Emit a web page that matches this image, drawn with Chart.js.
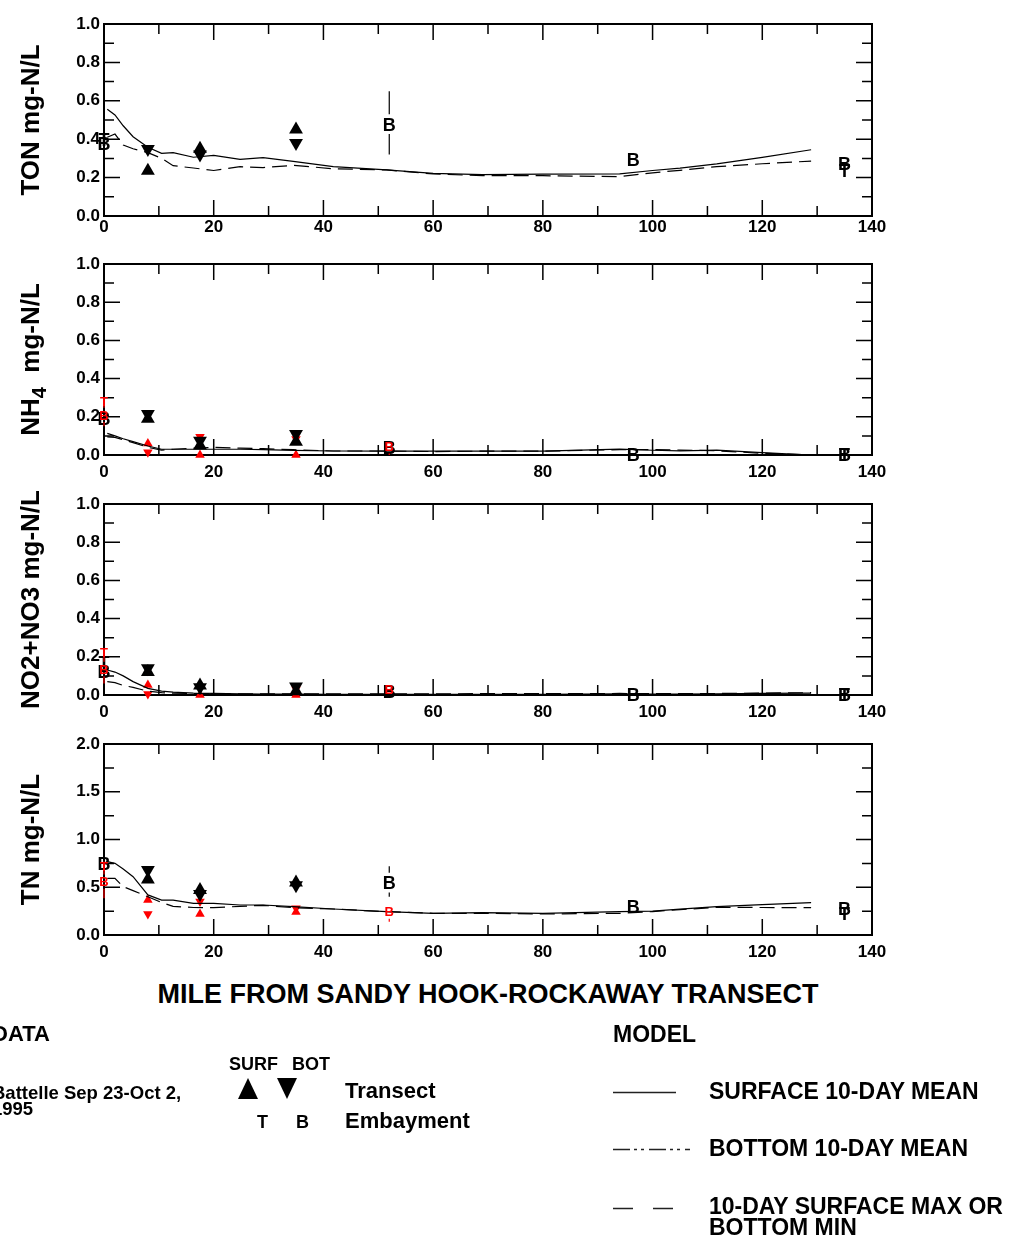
<!DOCTYPE html>
<html>
<head>
<meta charset="utf-8">
<script src="https://cdn.jsdelivr.net/npm/chart.js@4.4.1/dist/chart.umd.min.js"></script>
<style>
  body { margin: 0; background: #fff; }
  #page { position: relative; width: 1009px; height: 1236px; overflow: hidden; background: #fff; }
  canvas { position: absolute; left: 0; }
  svg { position: absolute; left: 0; top: 0; }
  .t { position: absolute; white-space: nowrap; font-family: "Liberation Sans", Arial, Helvetica, sans-serif;
       font-weight: bold; color: #000; line-height: 1; }
</style>
</head>
<body>
<div id="page">
  <canvas id="ton" width="1009" height="250" style="top:0px"></canvas>
  <canvas id="nh4" width="1009" height="250" style="top:240px"></canvas>
  <canvas id="no3" width="1009" height="250" style="top:480px"></canvas>
  <canvas id="tn" width="1009" height="250" style="top:720px"></canvas>

  <!-- x axis title shared by all four panels -->
  <div class="t" style="left:0; width:976px; text-align:center; top:981px; font-size:27px;">MILE FROM SANDY HOOK-ROCKAWAY TRANSECT</div>

  <!-- legend symbols -->
  <svg width="1009" height="1236">
    <polygon points="238,1099 258,1099 248,1078" fill="#000"/>
    <polygon points="277,1078 297,1078 287,1099" fill="#000"/>
    <line x1="613" y1="1092.5" x2="676" y2="1092.5" stroke="#222" stroke-width="1.3"/>
    <line x1="613" y1="1149.5" x2="690" y2="1149.5" stroke="#222" stroke-width="1.3" stroke-dasharray="17 4 3 4 3 5"/>
    <line x1="613" y1="1208.5" x2="673" y2="1208.5" stroke="#222" stroke-width="1.3" stroke-dasharray="20 20"/>
  </svg>

  <!-- legend texts -->
  <div class="t" style="left:-8px; top:1023px; font-size:22px;">DATA</div>
  <div class="t" style="left:-8px; top:1085px; font-size:18.5px; line-height:16px;">Battelle Sep 23-Oct 2,<br>1995</div>
  <div class="t" style="left:229px; top:1055px; font-size:18px;">SURF</div>
  <div class="t" style="left:292px; top:1055px; font-size:18px;">BOT</div>
  <div class="t" style="left:345px; top:1080px; font-size:22px;">Transect</div>
  <div class="t" style="left:257px; top:1113px; font-size:18px;">T</div>
  <div class="t" style="left:296px; top:1113px; font-size:18px;">B</div>
  <div class="t" style="left:345px; top:1110px; font-size:22px;">Embayment</div>
  <div class="t" style="left:613px; top:1023px; font-size:23px;">MODEL</div>
  <div class="t" style="left:709px; top:1080px; font-size:23px;">SURFACE 10-DAY MEAN</div>
  <div class="t" style="left:709px; top:1137px; font-size:23px;">BOTTOM 10-DAY MEAN</div>
  <div class="t" style="left:709px; top:1196px; font-size:23px; line-height:21px;">10-DAY SURFACE MAX OR<br>BOTTOM MIN</div>
</div>

<script>
// Miles along the transect where the model output is read
const modelMiles = [0.6, 2, 3.5, 5.3, 8, 10.5, 12.6, 16.3, 20, 24.8, 29, 34.5, 41.8, 51.5, 60, 69, 80, 94, 100, 105, 111.7, 120, 128.9];

// Model 10-day means, surface and bottom, for each constituent
const tonSurfMean = [0.556, 0.526, 0.47, 0.413, 0.358, 0.326, 0.330, 0.306, 0.316, 0.295, 0.304, 0.285, 0.257, 0.240, 0.222, 0.216, 0.218, 0.219, 0.237, 0.249, 0.271, 0.305, 0.345];
const tonBotMean  = [0.41, 0.427, 0.37, 0.35, 0.33, 0.30, 0.262, 0.25, 0.237, 0.257, 0.252, 0.264, 0.246, 0.240, 0.219, 0.21, 0.21, 0.205, 0.225, 0.238, 0.257, 0.272, 0.286];
const nh4SurfMean = [0.113, 0.10, 0.085, 0.07, 0.047, 0.03, 0.03, 0.03, 0.03, 0.03, 0.028, 0.024, 0.021, 0.02, 0.02, 0.02, 0.02, 0.031, 0.025, 0.022, 0.026, 0.012, 0.0];
const nh4BotMean  = [0.095, 0.092, 0.08, 0.065, 0.04, 0.026, 0.03, 0.036, 0.04, 0.036, 0.033, 0.028, 0.021, 0.021, 0.018, 0.02, 0.02, 0.028, 0.028, 0.026, 0.022, 0.009, 0.0];
const no3SurfMean = [0.131, 0.12, 0.10, 0.07, 0.035, 0.02, 0.015, 0.01, 0.008, 0.006, 0.005, 0.005, 0.004, 0.004, 0.004, 0.004, 0.004, 0.006, 0.005, 0.005, 0.006, 0.008, 0.01];
const no3BotMean  = [0.07, 0.065, 0.05, 0.04, 0.02, 0.012, 0.01, 0.008, 0.007, 0.006, 0.006, 0.006, 0.006, 0.006, 0.006, 0.007, 0.007, 0.008, 0.007, 0.007, 0.008, 0.01, 0.012];
const tnSurfMean  = [0.768, 0.75, 0.69, 0.61, 0.42, 0.366, 0.366, 0.332, 0.332, 0.314, 0.314, 0.297, 0.272, 0.244, 0.227, 0.234, 0.227, 0.244, 0.25, 0.27, 0.297, 0.318, 0.338];
const tnBotMean   = [0.593, 0.593, 0.506, 0.465, 0.40, 0.34, 0.30, 0.288, 0.286, 0.30, 0.311, 0.286, 0.272, 0.244, 0.227, 0.227, 0.22, 0.227, 0.245, 0.265, 0.29, 0.288, 0.286];

// Transect stations (triangles), black survey
const transectMiles = [8, 17.5, 35];
const tonSurfTransect = [0.236, 0.35, 0.45];
const tonBotTransect  = [0.349, 0.32, 0.38];
const nh4SurfTransect = [0.19, 0.05, 0.07];
const nh4BotTransect  = [0.215, 0.075, 0.11];
const no3SurfTransect = [0.12, 0.05, 0.02];
const no3BotTransect  = [0.14, 0.04, 0.045];
const tnSurfTransect  = [0.58, 0.47, 0.55];
const tnBotTransect   = [0.68, 0.43, 0.52];

// Transect stations, red survey
const nh4SurfTransectRed = [0.06, 0.0, 0.0];
const nh4BotTransectRed  = [0.015, 0.096, 0.084];
const no3SurfTransectRed = [0.052, 0.0, 0.0];
const no3BotTransectRed  = [0.005, 0.04, 0.03];
const tnSurfTransectRed  = [0.366, 0.22, 0.24];
const tnBotTransectRed   = [0.22, 0.35, 0.28];

// Embayment stations (letters T / B), black survey
const embayMiles = [0, 52, 96.5, 135];
const tonSurfEmbay = [0.40, null, null, 0.235];
const tonBotEmbay  = [0.378, 0.479, 0.295, 0.274];
const tonBotEmbayRange = [null, [0.32, 0.65], null, null];
const nh4SurfEmbay = [null, null, null, 0.0];
const nh4BotEmbay  = [0.19, 0.04, 0.0, 0.0];
const no3SurfEmbay = [0.17, null, null, 0.0];
const no3BotEmbay  = [0.122, 0.02, 0.0, 0.0];
const tnSurfEmbay  = [null, null, null, 0.22];
const tnBotEmbay   = [0.75, 0.548, 0.297, 0.28];
const tnBotEmbayRange = [null, [0.40, 0.72], null, null];

// Embayment stations, red survey
const embayMilesRed = [0, 52];
const nh4SurfEmbayRed = [0.28, null];
const nh4BotEmbayRed  = [0.21, 0.045];
const nh4BotEmbayRangeRed = [[0.15, 0.30], [0.0, 0.075]];
const no3SurfEmbayRed = [0.225, null];
const no3BotEmbayRed  = [0.136, 0.03];
const no3BotEmbayRangeRed = [[0.06, 0.24], [0.0, 0.05]];
const tnSurfEmbayRed  = [0.715, null];
const tnBotEmbayRed   = [0.558, 0.244];
const tnBotEmbayRangeRed = [[0.384, 0.77], [0.14, 0.30]];

const FONT = '"Liberation Sans", Arial, Helvetica, sans-serif';
Chart.defaults.font.family = FONT;
Chart.defaults.font.weight = 'bold';
Chart.defaults.font.size = 17;
Chart.defaults.color = '#000';

// Turn two lists into scatter points, skipping missing values
function pts(xs, ys, ranges) {
    const out = [];
    xs.forEach((x, i) => {
        if (ys[i] === null) return;
        const p = { x: x, y: ys[i] };
        if (ranges && ranges[i]) {
            p.lo = ranges[i][0];
            p.hi = ranges[i][1];
        }
        out.push(p);
    });
    return out;
}

// Frame with inward ticks on all four sides, like the original plot
const frameTicks = {
    id: 'frameTicks',
    beforeDatasetsDraw(chart, args, opts) {
        const { ctx, chartArea: a, scales: { x, y } } = chart;
        ctx.save();
        ctx.strokeStyle = '#000';
        ctx.lineWidth = 1.5;
        ctx.beginPath();
        const nx = Math.round((x.max - x.min) / opts.xMinor);
        for (let i = 1; i < nx; i++) {
            const px = x.getPixelForValue(x.min + i * opts.xMinor);
            const len = (i % opts.xEvery === 0) ? 16 : 10;
            ctx.moveTo(px, a.bottom); ctx.lineTo(px, a.bottom - len);
            ctx.moveTo(px, a.top); ctx.lineTo(px, a.top + len);
        }
        const ny = Math.round((y.max - y.min) / opts.yMinor);
        for (let i = 1; i < ny; i++) {
            const py = y.getPixelForValue(y.min + i * opts.yMinor);
            const len = (i % opts.yEvery === 0) ? 16 : 10;
            ctx.moveTo(a.left, py); ctx.lineTo(a.left + len, py);
            ctx.moveTo(a.right, py); ctx.lineTo(a.right - len, py);
        }
        ctx.stroke();
        ctx.lineWidth = 2;
        ctx.strokeRect(a.left, a.top, a.right - a.left, a.bottom - a.top);
        ctx.restore();
    }
};

// Letter markers (T / B) and their vertical range bars
const letterMarks = {
    id: 'letterMarks',
    afterDatasetsDraw(chart) {
        const { ctx, scales: { y } } = chart;
        ctx.save();
        chart.data.datasets.forEach((ds, i) => {
            if (!ds.letter) return;
            const meta = chart.getDatasetMeta(i);
            const size = ds.letterSize;
            ctx.font = `bold ${size}px ${FONT}`;
            ctx.fillStyle = ds.letterColor;
            ctx.strokeStyle = ds.letterColor;
            ctx.textAlign = 'center';
            ctx.textBaseline = 'alphabetic';
            ctx.lineWidth = 1.2;
            meta.data.forEach((el, j) => {
                const p = ds.data[j];
                if (p.lo !== undefined) {
                    const gap = size * 0.55;
                    const top = y.getPixelForValue(p.hi);
                    const bottom = y.getPixelForValue(p.lo);
                    ctx.beginPath();
                    if (top < el.y - gap) { ctx.moveTo(el.x, top); ctx.lineTo(el.x, el.y - gap); }
                    if (bottom > el.y + gap) { ctx.moveTo(el.x, el.y + gap); ctx.lineTo(el.x, bottom); }
                    ctx.stroke();
                }
                ctx.fillText(ds.letter, el.x, el.y + size * 0.36);
            });
        });
        ctx.restore();
    }
};

// Rotated y axis title, with optional subscript parts.
// Parts are kept in a closure (not in chart options) so Chart.js does not proxy them.
function makeSideTitle(parts, centerX) {
    return {
        id: 'sideTitle',
        afterDraw(chart) {
            const { ctx, chartArea } = chart;
            ctx.save();
            let total = 0;
            const widths = parts.map(part => {
                ctx.font = `bold ${part.size}px ${FONT}`;
                const w = ctx.measureText(part.text).width;
                total += w;
                return w;
            });
            ctx.translate(centerX, (chartArea.top + chartArea.bottom) / 2);
            ctx.rotate(-Math.PI / 2);
            ctx.fillStyle = '#000';
            ctx.textAlign = 'left';
            ctx.textBaseline = 'alphabetic';
            let pos = -total / 2;
            parts.forEach((part, k) => {
                ctx.font = `bold ${part.size}px ${FONT}`;
                ctx.fillText(part.text, pos, 9.5 + part.shift);
                pos += widths[k];
            });
            ctx.restore();
        }
    };
}

// One entry per stacked panel
const panels = [
    { id: 'ton', title: [{ text: 'TON mg-N/L', size: 26, shift: 0 }], yMax: 1, yStep: 0.2, yMinor: 0.1, xPad: 1, xAxisH: 34,
      surf: tonSurfMean, bot: tonBotMean, triUp: tonSurfTransect, triDown: tonBotTransect,
      embT: tonSurfEmbay, embB: tonBotEmbay, embRange: tonBotEmbayRange },
    { id: 'nh4', title: [{ text: 'NH', size: 26, shift: 0 }, { text: '4', size: 20, shift: 7 }, { text: '  mg-N/L', size: 26, shift: 0 }],
      yMax: 1, yStep: 0.2, yMinor: 0.1, xPad: 7, xAxisH: 35,
      surf: nh4SurfMean, bot: nh4BotMean, triUp: nh4SurfTransect, triDown: nh4BotTransect,
      embT: nh4SurfEmbay, embB: nh4BotEmbay, embRange: null,
      triUpRed: nh4SurfTransectRed, triDownRed: nh4BotTransectRed,
      embTRed: nh4SurfEmbayRed, embBRed: nh4BotEmbayRed, embRangeRed: nh4BotEmbayRangeRed },
    { id: 'no3', title: [{ text: 'NO2+NO3 mg-N/L', size: 26, shift: 0 }], yMax: 1, yStep: 0.2, yMinor: 0.1, xPad: 7, xAxisH: 35,
      surf: no3SurfMean, bot: no3BotMean, triUp: no3SurfTransect, triDown: no3BotTransect,
      embT: no3SurfEmbay, embB: no3BotEmbay, embRange: null,
      triUpRed: no3SurfTransectRed, triDownRed: no3BotTransectRed,
      embTRed: no3SurfEmbayRed, embBRed: no3BotEmbayRed, embRangeRed: no3BotEmbayRangeRed },
    { id: 'tn', title: [{ text: 'TN mg-N/L', size: 26, shift: 0 }], yMax: 2, yStep: 0.5, yMinor: 0.25, xPad: 7, xAxisH: 35,
      surf: tnSurfMean, bot: tnBotMean, triUp: tnSurfTransect, triDown: tnBotTransect,
      embT: tnSurfEmbay, embB: tnBotEmbay, embRange: tnBotEmbayRange,
      triUpRed: tnSurfTransectRed, triDownRed: tnBotTransectRed,
      embTRed: tnSurfEmbayRed, embBRed: tnBotEmbayRed, embRangeRed: tnBotEmbayRangeRed }
];

function buildDatasets(p) {
    const ds = [
        { label: 'Surface 10-day mean', data: pts(modelMiles, p.surf), showLine: true,
          borderColor: '#000', borderWidth: 1.2, pointRadius: 0 },
        { label: 'Bottom 10-day mean', data: pts(modelMiles, p.bot), showLine: true,
          borderColor: '#000', borderWidth: 1.2, borderDash: [15, 7], pointRadius: 0 }
    ];
    const tri = (label, vals, color, r, down) => ds.push({
        label: label, data: pts(transectMiles, vals), pointStyle: 'triangle', rotation: down ? 180 : 0,
        pointRadius: r, backgroundColor: color, borderColor: color, borderWidth: 0, clip: false
    });
    const letter = (label, xs, vals, ranges, ch, color, size) => ds.push({
        label: label, data: pts(xs, vals, ranges), pointRadius: 0, clip: false,
        letter: ch, letterColor: color, letterSize: size
    });

    tri('Transect surface', p.triUp, '#000', 8, false);
    tri('Transect bottom', p.triDown, '#000', 8, true);
    if (p.triUpRed) {
        tri('Transect surface (red)', p.triUpRed, '#ff0000', 5.5, false);
        tri('Transect bottom (red)', p.triDownRed, '#ff0000', 5.5, true);
    }
    letter('Embayment surface', embayMiles, p.embT, null, 'T', '#000', 18);
    letter('Embayment bottom', embayMiles, p.embB, p.embRange, 'B', '#000', 18);
    if (p.embTRed) {
        letter('Embayment surface (red)', embayMilesRed, p.embTRed, null, 'T', '#ff0000', 13);
        letter('Embayment bottom (red)', embayMilesRed, p.embBRed, p.embRangeRed, 'B', '#ff0000', 13);
    }
    return ds;
}

panels.forEach(p => {
    new Chart(document.getElementById(p.id), {
        type: 'scatter',
        data: { datasets: buildDatasets(p) },
        options: {
            responsive: false,
            animation: false,
            devicePixelRatio: 1,
            layout: { padding: { top: 24, right: 137, left: 0, bottom: 0 } },
            scales: {
                x: {
                    type: 'linear', min: 0, max: 140,
                    grid: { display: false, drawTicks: false },
                    border: { display: false },
                    ticks: { stepSize: 20, padding: p.xPad, maxRotation: 0, autoSkip: false,
                             font: { size: 17, weight: 'bold' } },
                    afterFit: s => { s.height = p.xAxisH; }
                },
                y: {
                    type: 'linear', min: 0, max: p.yMax,
                    grid: { display: false, drawTicks: false },
                    border: { display: false },
                    ticks: { stepSize: p.yStep, padding: 4, callback: v => Number(v).toFixed(1),
                             font: { size: 17, weight: 'bold' } },
                    afterFit: s => { s.width = 104; }
                }
            },
            plugins: {
                legend: { display: false },
                tooltip: { enabled: false },
                frameTicks: { xMinor: 10, xEvery: 2, yMinor: p.yMinor, yEvery: 2 }
            }
        },
        plugins: [frameTicks, letterMarks, makeSideTitle(p.title, 29)]
    });
});
</script>
</body>
</html>
